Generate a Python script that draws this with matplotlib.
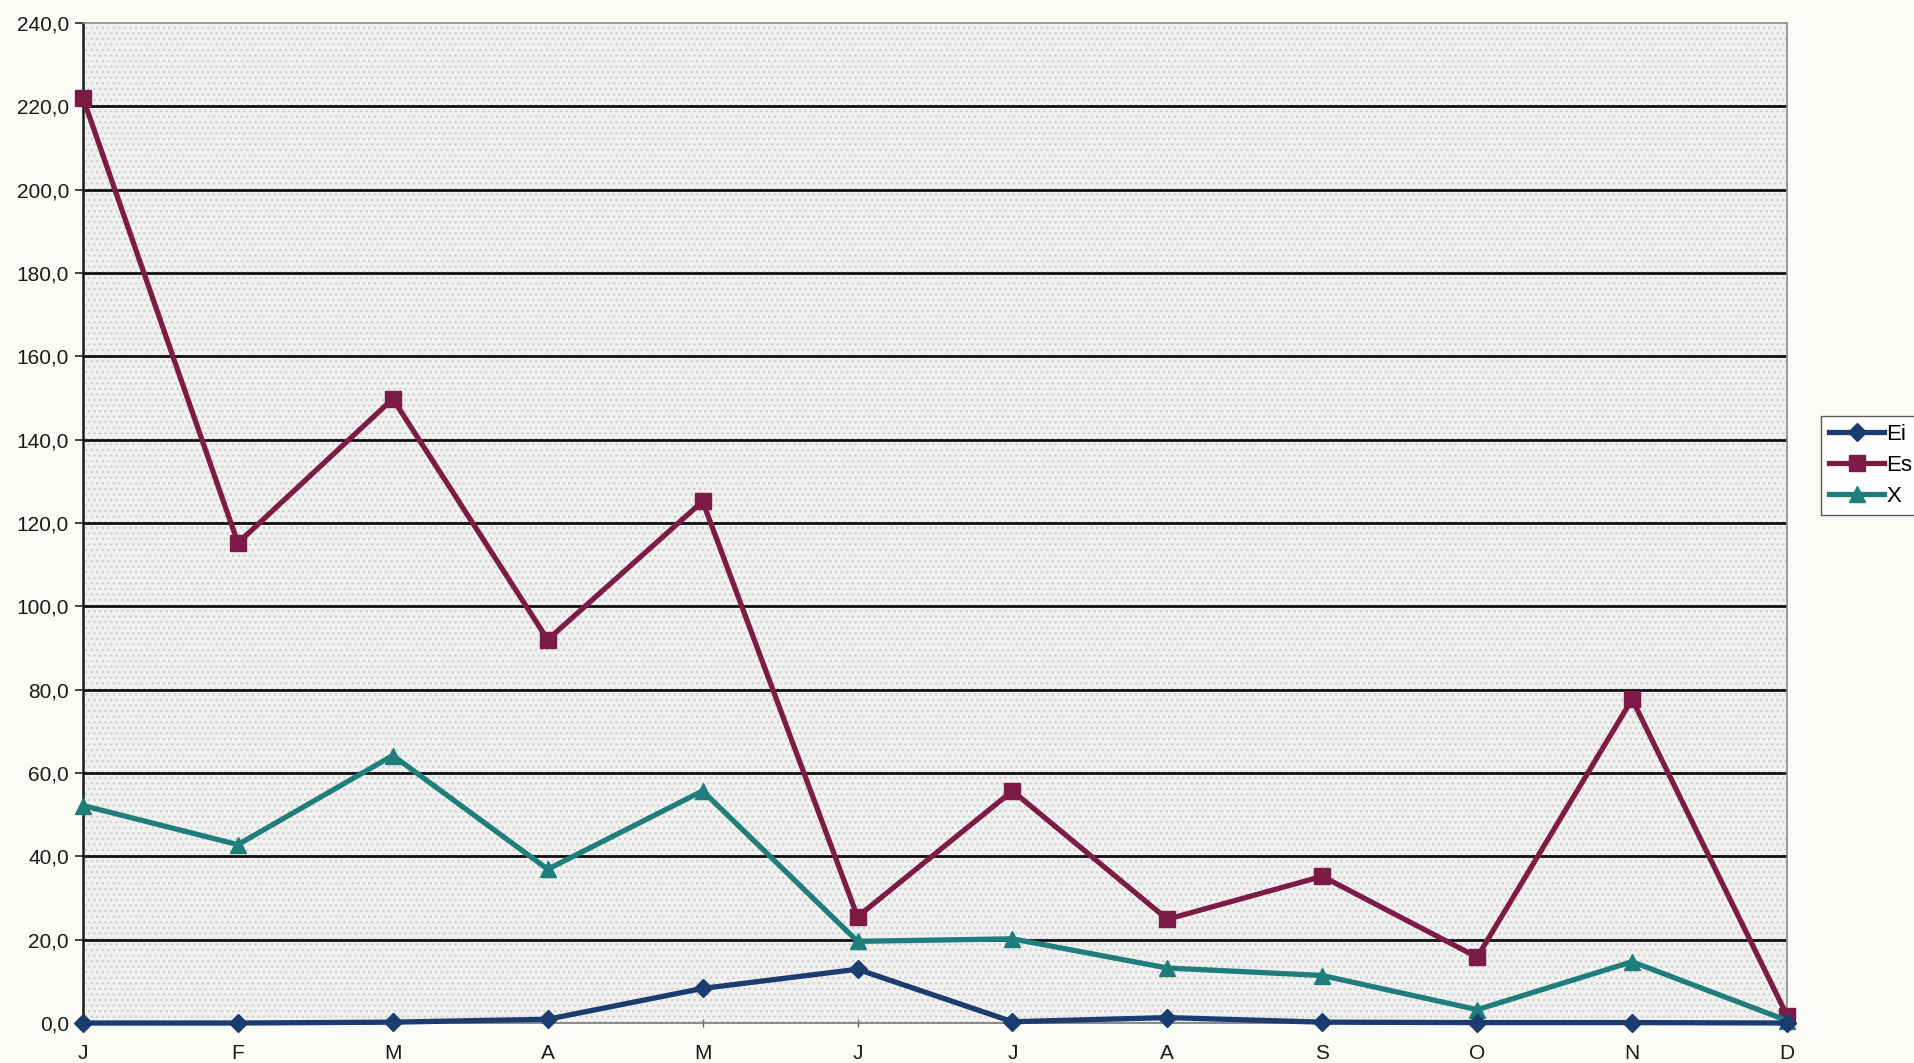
import matplotlib
matplotlib.use("Agg")
import matplotlib.pyplot as plt
from matplotlib.patches import Rectangle

months = ["J", "F", "M", "A", "M", "J", "J", "A", "S", "O", "N", "D"]
ei = [0.0, 0.0, 0.2, 0.9, 8.3, 12.9, 0.3, 1.3, 0.2, 0.1, 0.1, 0.0]
es = [222.0, 115.2, 149.8, 92.0, 125.2, 25.5, 55.7, 24.9, 35.2, 15.8, 77.7, 1.8]
x_series = [52.2, 42.8, 64.2, 36.9, 55.7, 19.6, 20.2, 13.2, 11.4, 3.2, 14.7, 0.6]
y_ticks = [0, 20, 40, 60, 80, 100, 120, 140, 160, 180, 200, 220, 240]

plt.rcParams["font.family"] = ["Liberation Sans", "DejaVu Sans"]
plt.rcParams["hatch.linewidth"] = 1.0

W, H = 1915, 1063
fig = plt.figure(figsize=(W / 100, H / 100), dpi=100)
fig.patch.set_facecolor("#fbfbf8")

left, right, top, bottom = 83, 1787, 23, 1023
ax = fig.add_axes([left / W, 1 - bottom / H, (right - left) / W, (bottom - top) / H])

# stippled plot area
ax.set_facecolor("#f1f1ef")
ax.add_patch(Rectangle((0, 0), 1, 1, transform=ax.transAxes, facecolor="none",
                       edgecolor="#d0d0d0", hatch="...", linewidth=0, zorder=0))

xs = list(range(len(months)))
ax.set_xlim(0, len(months) - 1)
ax.set_ylim(0, 240)

for yv in y_ticks[1:-1]:
    ax.axhline(yv, color="#111111", linewidth=2.0, zorder=1)

ax.plot(xs, ei, color="#1b3c6e", linewidth=3.8, marker="D", markersize=9,
        label="Ei", zorder=5, clip_on=False)
ax.plot(xs, es, color="#7c1c44", linewidth=3.8, marker="s", markersize=11,
        label="Es", zorder=4, clip_on=False)
ax.plot(xs, x_series, color="#1f7d7b", linewidth=3.8, marker="^", markersize=12,
        label="X", zorder=4, clip_on=False)

ax.set_yticks(y_ticks)
ax.set_yticklabels([f"{v:.1f}".replace(".", ",") for v in y_ticks])
ax.set_xticks(xs)
ax.set_xticklabels(months)

ax.tick_params(axis="y", length=6, width=1.2, color="#222222", labelsize=15,
               labelcolor="#1a1a1a", pad=4)
ax.tick_params(axis="x", length=6, width=1.0, color="#666666", labelsize=15,
               labelcolor="#1a1a1a", pad=12, direction="inout")

for side in ("top", "right"):
    ax.spines[side].set_color("#8a8a8a")
    ax.spines[side].set_linewidth(1.2)
    ax.spines[side].set_linestyle((0, (1, 1)))
ax.spines["left"].set_color("#1a1a1a")
ax.spines["left"].set_linewidth(1.8)
ax.spines["bottom"].set_color("#777777")
ax.spines["bottom"].set_linewidth(1.2)

leg = fig.legend(loc="upper left", bbox_to_anchor=(1821 / W, 1 - 416 / H),
                 frameon=True, fontsize=16, handlelength=2.5, handletextpad=0.1,
                 borderpad=0.35, labelspacing=0.45, borderaxespad=0, fancybox=False)
leg.get_frame().set_edgecolor("#333333")
leg.get_frame().set_linewidth(1.0)
leg.get_frame().set_facecolor("#ffffff")

fig.savefig("out.png", dpi=100, facecolor=fig.get_facecolor())
